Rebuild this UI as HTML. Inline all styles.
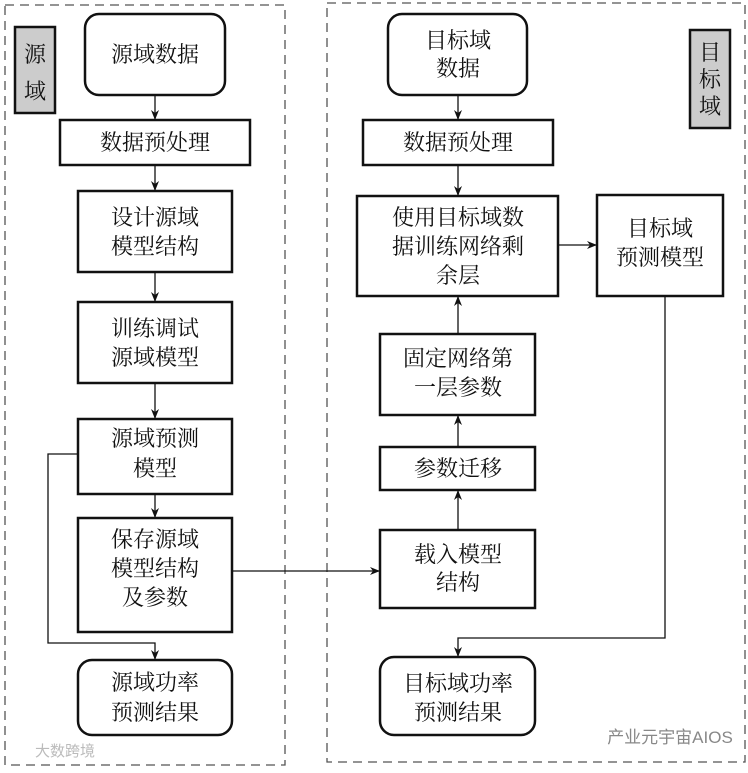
<!DOCTYPE html>
<html><head><meta charset="utf-8"><style>
body{margin:0;background:#fff;}
svg text{font-family:"Liberation Serif","Noto Serif CJK SC",serif;font-size:22px;fill:#111;text-anchor:middle;}
</style></head><body>
<svg width="748" height="768" xmlns="http://www.w3.org/2000/svg">
<defs><marker id="a" markerWidth="10" markerHeight="8" refX="9" refY="4" orient="auto" markerUnits="userSpaceOnUse"><path d="M0,0 L10,4 L0,8 L3,4 Z" fill="#111"/></marker></defs>
<g fill="none" stroke="#555" stroke-width="1.3" stroke-dasharray="9,6">
<rect x="5" y="5" width="280" height="760"/>
<rect x="327" y="3" width="418" height="759"/>
</g>
<g stroke="#111" stroke-width="2.5" fill="#fff">
<rect x="15" y="27" width="40" height="86" fill="#ccc"/>
<rect x="690" y="30" width="40" height="98" fill="#ccc"/>
<rect x="85" y="14" width="140" height="81" rx="14"/>
<rect x="60" y="120" width="190" height="45"/>
<rect x="78" y="191" width="154" height="81"/>
<rect x="78" y="302" width="154" height="81"/>
<rect x="78" y="419" width="154" height="75"/>
<rect x="78" y="518" width="154" height="114"/>
<rect x="78" y="660" width="154" height="75" rx="14"/>
<rect x="388" y="14" width="139" height="81" rx="14"/>
<rect x="363" y="120" width="190" height="45"/>
<rect x="357" y="196" width="201" height="100"/>
<rect x="380" y="334" width="155" height="81"/>
<rect x="380" y="447" width="155" height="43"/>
<rect x="380" y="530" width="155" height="78"/>
<rect x="380" y="657" width="155" height="78" rx="14"/>
<rect x="597" y="195" width="126" height="101"/>
</g>
<g stroke="#111" stroke-width="1.3" fill="none" marker-end="url(#a)">
<line x1="155" y1="95" x2="155" y2="119"/>
<line x1="155" y1="165" x2="155" y2="190"/>
<line x1="155" y1="272" x2="155" y2="301"/>
<line x1="155" y1="383" x2="155" y2="418"/>
<line x1="155" y1="494" x2="155" y2="517"/>
<polyline points="78,454 48,454 48,643 155,643 155,659"/>
<line x1="232" y1="571" x2="379" y2="571"/>
<line x1="458" y1="95" x2="458" y2="119"/>
<line x1="458" y1="165" x2="458" y2="195"/>
<line x1="458" y1="334" x2="458" y2="297"/>
<line x1="458" y1="447" x2="458" y2="416"/>
<line x1="458" y1="530" x2="458" y2="491"/>
<line x1="558" y1="245" x2="596" y2="245"/>
<polyline points="665,296 665,638 458,638 458,656"/>
</g>
<text x="35" y="62">源</text><text x="35" y="99">域</text>
<text x="710" y="60">目</text><text x="710" y="87">标</text><text x="710" y="114">域</text>
<text x="155" y="62">源域数据</text>
<text x="155" y="150">数据预处理</text>
<text x="155" y="225">设计源域</text><text x="155" y="254">模型结构</text>
<text x="155" y="336">训练调试</text><text x="155" y="365">源域模型</text>
<text x="155" y="446">源域预测</text><text x="155" y="476">模型</text>
<text x="155" y="547">保存源域</text><text x="155" y="576">模型结构</text><text x="155" y="605">及参数</text>
<text x="155" y="690">源域功率</text><text x="155" y="720">预测结果</text>
<text x="458" y="48">目标域</text><text x="458" y="76">数据</text>
<text x="458" y="150">数据预处理</text>
<text x="458" y="225">使用目标域数</text><text x="458" y="254">据训练网络剩</text><text x="458" y="283">余层</text>
<text x="458" y="366">固定网络第</text><text x="458" y="395">一层参数</text>
<text x="458" y="476">参数迁移</text>
<text x="458" y="562">载入模型</text><text x="458" y="590">结构</text>
<text x="458" y="691">目标域功率</text><text x="458" y="720">预测结果</text>
<text x="660" y="236">目标域</text><text x="660" y="265">预测模型</text>
<text x="670" y="743" style="font-size:17px;fill:#888;font-family:'Liberation Sans','Noto Sans CJK SC',sans-serif">产业元宇宙AIOS</text>
<text x="65" y="756" style="font-size:15px;fill:#bbb;font-family:'Liberation Sans','Noto Sans CJK SC',sans-serif">大数跨境</text>
</svg>
</body></html>
